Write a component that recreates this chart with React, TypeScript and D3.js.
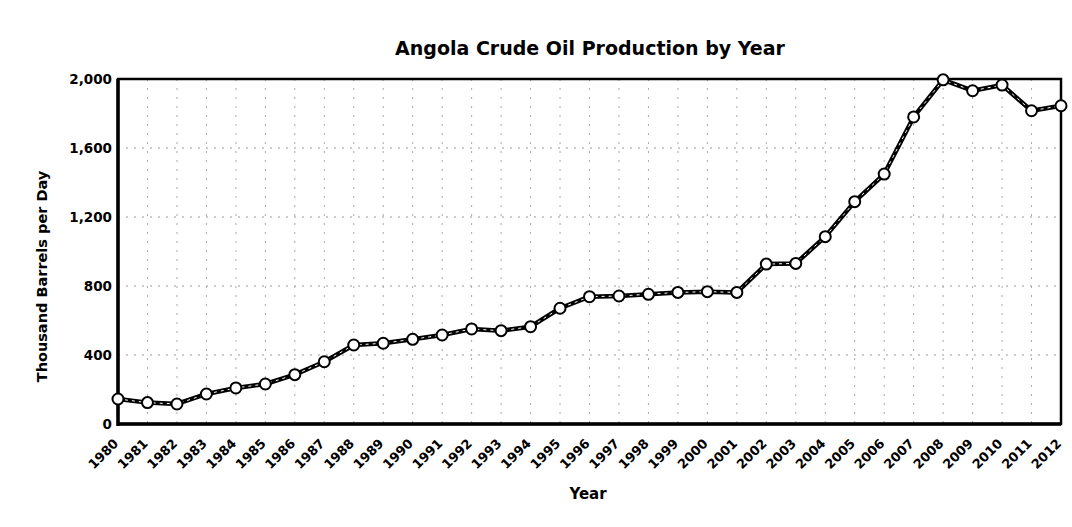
import React from "react";
import * as d3 from "d3";

const years = [
  1980, 1981, 1982, 1983, 1984, 1985, 1986, 1987, 1988, 1989, 1990, 1991,
  1992, 1993, 1994, 1995, 1996, 1997, 1998, 1999, 2000, 2001, 2002, 2003,
  2004, 2005, 2006, 2007, 2008, 2009, 2010, 2011, 2012,
];
const production = [
  145, 124, 116, 174, 209, 232, 286, 361, 458, 468, 491, 516,
  551, 541, 564, 671, 738, 742, 752, 763, 767, 763, 927, 931,
  1086, 1289, 1449, 1780, 1995, 1932, 1965, 1816, 1845,
];
const yTicks = [0, 400, 800, 1200, 1600, 2000];

const W = 1072;
const H = 527;
const M = { left: 118, right: 1061, top: 79, bottom: 424 };
const FONT = "'DejaVu Sans', Verdana, sans-serif";

export default function App() {
  const x = d3.scaleLinear().domain([1980, 2012]).range([M.left, M.right]);
  const y = d3.scaleLinear().domain([0, 2000]).range([M.bottom, M.top]);
  const line = d3
    .line<number>()
    .x((_, i) => x(years[i]))
    .y((d) => y(d));
  const fmt = d3.format(",");

  return (
    <svg
      width={W}
      height={H}
      style={{ position: "absolute", left: 0, top: 0, background: "#fff" }}
      fontFamily={FONT}
    >
      <rect x={0} y={0} width={W} height={H} fill="#fff" />
      <text
        x={590}
        y={55}
        textAnchor="middle"
        fontSize={19}
        fontWeight="bold"
        fill="#000"
      >
        Angola Crude Oil Production by Year
      </text>

      {/* grid */}
      {yTicks.map((t) => (
        <line
          key={"gy" + t}
          x1={M.left}
          x2={M.right}
          y1={y(t)}
          y2={y(t)}
          stroke="#999"
          strokeWidth={1}
          strokeDasharray="2,6"
        />
      ))}
      {years.map((yr) => (
        <line
          key={"gx" + yr}
          x1={x(yr)}
          x2={x(yr)}
          y1={M.top}
          y2={M.bottom}
          stroke="#aaa"
          strokeWidth={1}
          strokeDasharray="2,7"
        />
      ))}

      {/* frame */}
      <rect
        x={M.left}
        y={M.top}
        width={M.right - M.left}
        height={M.bottom - M.top}
        fill="none"
        stroke="#000"
        strokeWidth={2.5}
      />
      <line x1={M.left} x2={M.left} y1={M.top} y2={M.bottom + 2} stroke="#000" strokeWidth={3.5} />
      <line x1={M.left} x2={M.right} y1={M.bottom} y2={M.bottom} stroke="#000" strokeWidth={3.5} />

      {/* y ticks */}
      {yTicks.map((t) => (
        <text
          key={"ty" + t}
          x={112}
          y={y(t)}
          dy="0.35em"
          textAnchor="end"
          fontSize={13.5}
          fontWeight="bold"
          fill="#000"
        >
          {fmt(t)}
        </text>
      ))}

      {/* x ticks */}
      {years.map((yr) => (
        <text
          key={"tx" + yr}
          transform={`translate(${x(yr) - 2},${M.bottom + 17}) rotate(-45)`}
          textAnchor="end"
          dy="0.35em"
          fontSize={13}
          fontWeight="bold"
          fill="#000"
        >
          {yr}
        </text>
      ))}

      <text
        x={588}
        y={499}
        textAnchor="middle"
        fontSize={15}
        fontWeight="bold"
        fill="#000"
      >
        Year
      </text>
      <text
        transform={`translate(47,${(M.top + M.bottom) / 2 + 25}) rotate(-90)`}
        textAnchor="middle"
        fontSize={14.5}
        fontWeight="bold"
        fill="#000"
      >
        Thousand Barrels per Day
      </text>

      {/* series */}
      <path d={line(production) || ""} fill="none" stroke="#000" strokeWidth={4.5} strokeLinejoin="round" />
      <path d={line(production) || ""} fill="none" stroke="#fff" strokeWidth={1} strokeDasharray="3,4" />
      {production.map((v, i) => (
        <circle
          key={"p" + i}
          cx={x(years[i])}
          cy={y(v)}
          r={5.5}
          fill="#fff"
          stroke="#000"
          strokeWidth={2}
        />
      ))}
    </svg>
  );
}
